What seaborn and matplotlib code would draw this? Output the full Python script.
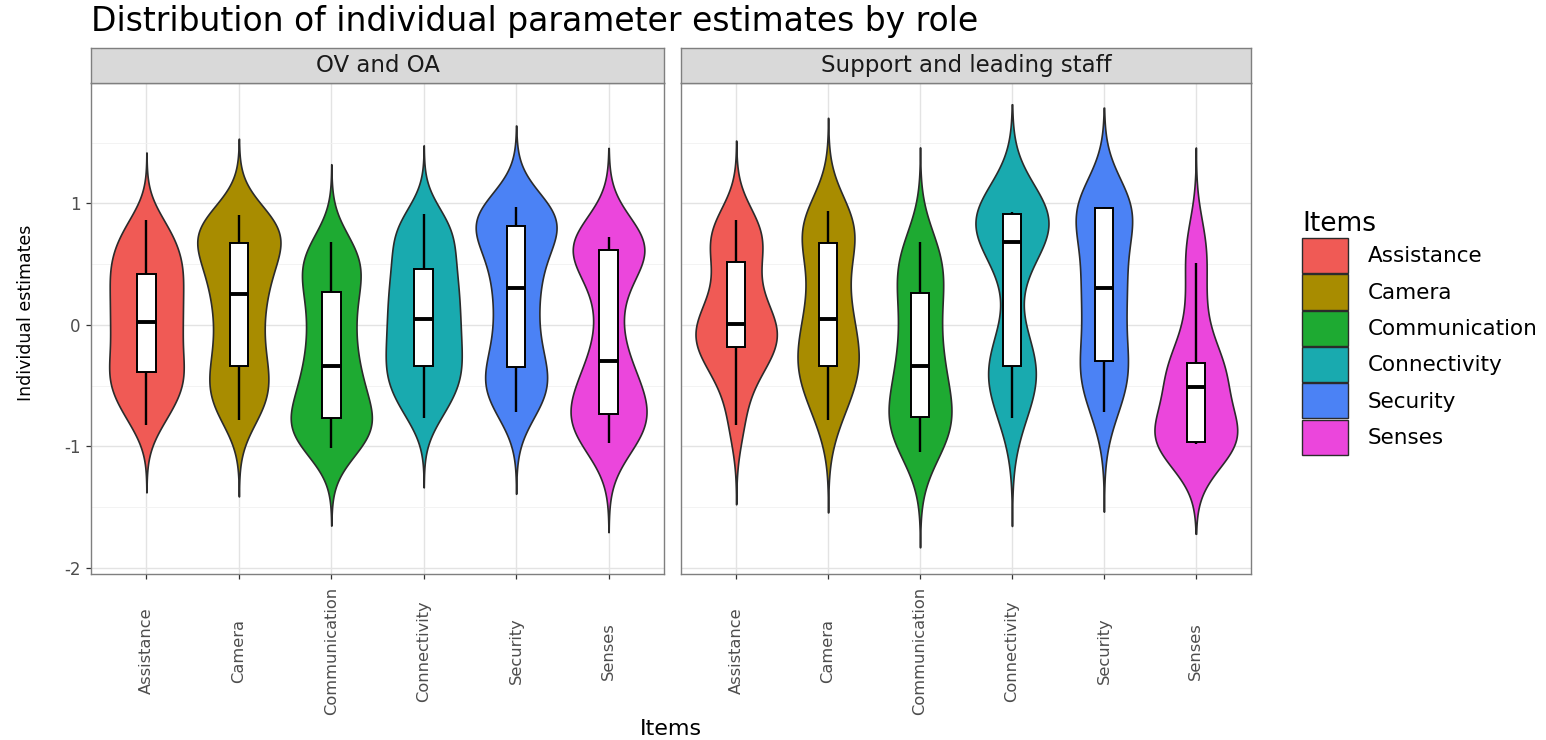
import matplotlib
matplotlib.use("Agg")
import matplotlib.pyplot as plt
from matplotlib.patches import Patch
from matplotlib.ticker import FixedLocator
import pandas as pd
import seaborn as sns

# ---------------------------------------------------------------- data
items = ["Assistance", "Camera", "Communication", "Connectivity", "Security", "Senses"]
roles = ["OV and OA", "Support and leading staff"]
colors = ["#F05A55", "#A88C00", "#1EAA32", "#19AAAF", "#4B82F5", "#EB46DC"]

# individual parameter estimates, OV and OA
ov_assistance = [-0.82, -0.71, -0.62, -0.55, -0.49, -0.44, -0.39, -0.32, -0.25, -0.18, -0.11, -0.04, 0.02,
                 0.09, 0.15, 0.22, 0.29, 0.36, 0.42, 0.48, 0.54, 0.61, 0.68, 0.77, 0.86]
ov_camera = [-0.78, -0.70, -0.62, -0.55, -0.48, -0.41, -0.34, -0.24, -0.14, -0.04, 0.06, 0.16, 0.25,
             0.33, 0.41, 0.48, 0.55, 0.61, 0.67, 0.72, 0.76, 0.80, 0.84, 0.87, 0.90]
ov_communication = [-1.01, -0.97, -0.93, -0.89, -0.85, -0.81, -0.77, -0.70, -0.63, -0.56, -0.49, -0.42, -0.34,
                    -0.24, -0.14, -0.04, 0.06, 0.16, 0.27, 0.35, 0.42, 0.49, 0.56, 0.62, 0.68]
ov_connectivity = [-0.77, -0.66, -0.58, -0.51, -0.45, -0.39, -0.34, -0.27, -0.21, -0.14, -0.08, -0.01, 0.05,
                   0.12, 0.19, 0.25, 0.32, 0.39, 0.46, 0.54, 0.62, 0.70, 0.77, 0.84, 0.91]
ov_security = [-0.72, -0.65, -0.58, -0.52, -0.46, -0.41, -0.35, -0.25, -0.14, -0.03, 0.08, 0.19, 0.30,
               0.40, 0.49, 0.58, 0.66, 0.74, 0.81, 0.84, 0.87, 0.90, 0.93, 0.95, 0.97]
ov_senses = [-0.97, -0.93, -0.89, -0.85, -0.81, -0.77, -0.73, -0.66, -0.59, -0.52, -0.45, -0.38, -0.30,
             -0.10, 0.10, 0.30, 0.45, 0.55, 0.62, 0.64, 0.66, 0.68, 0.69, 0.71, 0.72]

# individual parameter estimates, support and leading staff
sl_assistance = [-0.82, -0.50, -0.36, -0.26, -0.18, -0.13, -0.08, -0.03, 0.01,
                 0.10, 0.21, 0.34, 0.52, 0.63, 0.72, 0.80, 0.86]
sl_camera = [-0.78, -0.60, -0.48, -0.40, -0.34, -0.25, -0.16, -0.06, 0.05,
             0.18, 0.33, 0.50, 0.67, 0.74, 0.81, 0.88, 0.94]
sl_communication = [-1.05, -0.95, -0.87, -0.81, -0.76, -0.66, -0.55, -0.45, -0.34,
                    -0.20, -0.06, 0.09, 0.26, 0.36, 0.47, 0.58, 0.68]
sl_connectivity = [-0.77, -0.58, -0.48, -0.40, -0.34, -0.26, -0.15, 0.40, 0.68,
                   0.74, 0.80, 0.85, 0.91, 0.91, 0.92, 0.92, 0.93]
sl_security = [-0.72, -0.52, -0.44, -0.38, -0.30, -0.12, 0.05, 0.18, 0.30,
               0.40, 0.54, 0.70, 0.96, 0.96, 0.97, 0.97, 0.97]
sl_senses = [-0.98, -0.97, -0.97, -0.97, -0.96, -0.93, -0.88, -0.75, -0.51,
             -0.48, -0.42, -0.36, -0.31, -0.10, 0.20, 0.51, 0.72]

series = {
    roles[0]: [ov_assistance, ov_camera, ov_communication, ov_connectivity, ov_security, ov_senses],
    roles[1]: [sl_assistance, sl_camera, sl_communication, sl_connectivity, sl_security, sl_senses],
}

rows = []
for role, groups in series.items():
    for item, values in zip(items, groups):
        rows.extend((role, item, v) for v in values)
df = pd.DataFrame(rows, columns=["role", "item", "estimate"])

# ---------------------------------------------------------------- figure
plt.rcParams["font.family"] = ["DejaVu Sans"]
plt.rcParams["axes.unicode_minus"] = False
W, H = 1546, 740
fig = plt.figure(figsize=(W / 100, H / 100), dpi=100)
fig.patch.set_facecolor("white")


def px_axes(left, top, right, bottom):
    return fig.add_axes([left / W, 1 - bottom / H, (right - left) / W, (bottom - top) / H])


panel_x = [(91, 664), (681, 1251)]
panel_top, panel_bottom, strip_top = 83, 574, 48
bw_adjust = {roles[0]: 0.72, roles[1]: 0.8}
border = "#7F7F7F"

for i, (role, (left, right)) in enumerate(zip(roles, panel_x)):
    ax = px_axes(left, panel_top, right, panel_bottom)
    sub = df[df["role"] == role]

    sns.violinplot(
        data=sub, x="item", y="estimate", hue="item", order=items, hue_order=items,
        palette=colors, saturation=1, width=0.9, cut=3, gridsize=300,
        bw_method="scott", bw_adjust=bw_adjust[role],
        density_norm="area", common_norm=True, inner=None,
        linewidth=1.2, linecolor="#2B2B2B", legend=False, ax=ax,
    )
    sns.boxplot(
        data=sub, x="item", y="estimate", order=items, width=0.2,
        color="white", saturation=1, linecolor="black", linewidth=1.4,
        showfliers=False, showcaps=False,
        medianprops=dict(linewidth=2.8, color="black"),
        whiskerprops=dict(linewidth=1.7, color="black"),
        ax=ax,
    )

    ax.set_xlim(-0.6, 5.6)
    ax.set_ylim(-2.05, 1.99)
    ax.set_yticks([-2, -1, 0, 1])
    ax.yaxis.set_minor_locator(FixedLocator([-1.5, -0.5, 0.5, 1.5]))
    ax.set_facecolor("white")
    ax.grid(which="major", color="#E3E3E3", linewidth=1.0)
    ax.grid(which="minor", axis="y", color="#F1F1F1", linewidth=0.6)
    ax.set_axisbelow(True)
    for sp in ax.spines.values():
        sp.set_visible(True)
        sp.set_color(border)
        sp.set_linewidth(1.0)
    ax.set_xlabel("")
    ax.set_ylabel("")

    ax.set_xticks(range(len(items)))
    ax.set_xticklabels(items, rotation=90, va="center", ha="center", fontsize=11.7)
    ax.tick_params(axis="x", which="major", length=3.6, width=0.9, color="#333333",
                   labelcolor="#4D4D4D", pad=51.8)
    ax.tick_params(axis="y", which="major", length=3.6, width=0.9, color="#333333",
                   labelcolor="#4D4D4D", labelsize=12, pad=4)
    ax.tick_params(which="minor", length=0)
    if i == 1:
        ax.tick_params(axis="y", left=False, labelleft=False)

    # facet strip
    sax = px_axes(left, strip_top, right, panel_top)
    sax.set_facecolor("#D9D9D9")
    sax.set_xticks([])
    sax.set_yticks([])
    for sp in sax.spines.values():
        sp.set_color(border)
        sp.set_linewidth(1.0)
    sax.text(0.5, 0.5, role, ha="center", va="center", fontsize=16.5,
             color="#1A1A1A", transform=sax.transAxes)

fig.text(91 / W, 1 - 21 / H, "Distribution of individual parameter estimates by role",
         ha="left", va="center", fontsize=23.8, color="black")
fig.text(26 / W, 1 - 313 / H, "Individual estimates", rotation=90,
         ha="center", va="center", fontsize=12.5, color="black")
fig.text(671 / W, 1 - 729 / H, "Items", ha="center", va="center", fontsize=16, color="black")

handles = [Patch(facecolor=c, edgecolor="#2B2B2B", linewidth=1.0) for c in colors]
fig.legend(handles=handles, labels=items, title="Items", loc="upper left",
           bbox_to_anchor=(1302 / W, 1 - 211 / H), frameon=False,
           fontsize=15.5, title_fontsize=19, handlelength=2.14, handleheight=2.13,
           labelspacing=0.055, handletextpad=0.9, borderpad=0, borderaxespad=0,
           alignment="left")

fig.savefig("out.png", dpi=100, facecolor="white")
